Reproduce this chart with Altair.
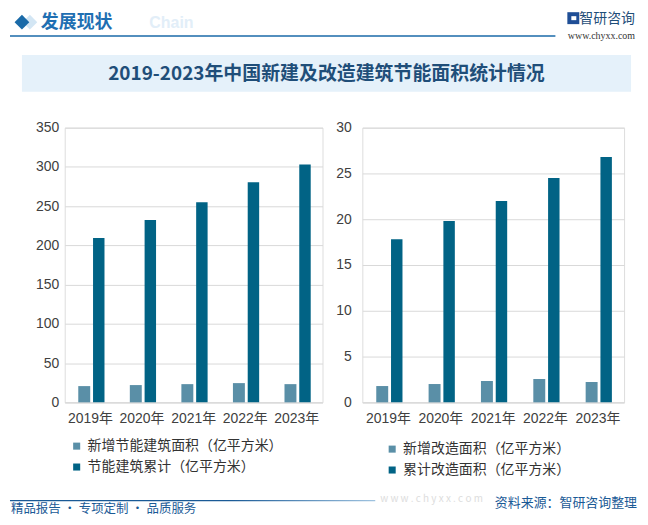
import altair as alt
import pandas as pd

years = ["2019年", "2020年", "2021年", "2022年", "2023年"]
new_energy = [20.7, 22.0, 23.2, 24.5, 23.2]
cum_energy = [209.4, 232.2, 255.0, 280.3, 303.1]
new_retro = [1.78, 2.0, 2.33, 2.55, 2.22]
cum_retro = [17.8, 19.8, 22.0, 24.5, 26.8]

left_series = ["新增节能建筑面积（亿平方米）", "节能建筑累计（亿平方米）"]
right_series = ["新增改造面积（亿平方米）", "累计改造面积（亿平方米）"]

LIGHT = "#5a8fa7"
DARK = "#016385"
FONT = "'Liberation Sans', 'Noto Sans CJK SC', sans-serif"
CJK = "'Noto Sans CJK SC', sans-serif"

def long_df(series, a, b):
    rows = []
    for i, y in enumerate(years):
        rows.append({"year": y, "series": series[0], "value": a[i]})
        rows.append({"year": y, "series": series[1], "value": b[i]})
    return pd.DataFrame(rows)

left_df = long_df(left_series, new_energy, cum_energy)
right_df = long_df(right_series, new_retro, cum_retro)


def bars(df, series, ymax, ystep, w, h, lx, ly, ypad):
    base = alt.Chart(df).encode(
        x=alt.X("year:N", sort=years, title=None,
                scale=alt.Scale(paddingInner=0, paddingOuter=0),
                axis=alt.Axis(labelAngle=0, labelFontSize=14, labelColor="#404040",
                              labelFont=FONT, ticks=False, domainColor="#d9d9d9",
                              labelPadding=9, grid=False)),
        y=alt.Y("value:Q", title=None,
                scale=alt.Scale(domain=[0, ymax], nice=False),
                axis=alt.Axis(values=list(range(0, ymax + 1, ystep)), labelFontSize=14,
                              labelColor="#404040", labelFont=FONT, ticks=False,
                              domain=False, gridColor="#d9d9d9", labelPadding=ypad)),
        color=alt.Color("series:N", sort=series,
                        scale=alt.Scale(domain=series, range=[LIGHT, DARK]),
                        legend=alt.Legend(orient="none", legendX=lx, legendY=ly,
                                          direction="vertical", title=None,
                                          symbolType="square", symbolSize=50,
                                          symbolStrokeWidth=0, labelFontSize=14,
                                          labelFont=CJK, labelColor="#333333",
                                          labelLimit=400,
                                          rowPadding=7, padding=0, labelOffset=4)),
    )
    lb = base.transform_filter(alt.datum.series == series[0]).mark_bar(width=12, xOffset=-6.3)
    db = base.transform_filter(alt.datum.series == series[1]).mark_bar(width=11.5, xOffset=8.3)
    return alt.layer(lb, db).properties(width=w, height=h)


def one():
    return alt.Data(values=[{"a": 1}])


def txt(x, y, s, size, color, align="left", weight="normal", font=CJK, baseline="middle"):
    return alt.Chart(one()).mark_text(
        align=align, baseline=baseline, fontSize=size, color=color,
        fontWeight=weight, font=font
    ).encode(x=alt.value(x), y=alt.value(y), text=alt.value(s))


def rect(x, x2, y, y2, color, opacity=1.0):
    return alt.Chart(one()).mark_rect(color=color, opacity=opacity).encode(
        x=alt.value(x), x2=alt.value(x2), y=alt.value(y), y2=alt.value(y2))


# decorations, relative to left plot origin (page 63,126)
OX, OY = 63, 126
def rx(p):
    return p - OX
def ry(p):
    return p - OY

anchor = rect(rx(8), rx(640), ry(8), ry(517), "white", 0.0)
banner = rect(rx(20), rx(632), ry(53), ry(90), "#e5f1fa")
title = txt(rx(326), ry(72), "2019-2023年中国新建及改造建筑节能面积统计情况", 19,
            "#1f4e79", align="center", weight="bold")
diamond_bg = alt.Chart(one()).mark_point(shape="diamond", filled=True, size=220,
                                         color="#d3e6f4", opacity=1).encode(
    x=alt.value(rx(28)), y=alt.value(ry(20)))
diamond = alt.Chart(one()).mark_point(shape="diamond", filled=True, size=220,
                                      color="#1a6aa8", opacity=1).encode(
    x=alt.value(rx(20)), y=alt.value(ry(20)))
head = txt(rx(39), ry(21), "发展现状", 18, "#1f6fb2", weight="bold")
chain = txt(rx(148), ry(21), "Chain", 16, "#e2eef8", weight="bold", font="'Liberation Sans'")
head_line = alt.Chart(one()).mark_rule(color="#1a6aa8", strokeWidth=1.5).encode(
    x=alt.value(rx(8)), x2=alt.value(rx(556)), y=alt.value(ry(34)))
logo_icon = rect(rx(568), rx(580), ry(10), ry(22), "#1f4e96")
logo_icon2 = rect(rx(572), rx(577), ry(14), ry(18), "white")
logo = txt(rx(636), ry(17), "智研咨询", 14, "#1f4e79", align="right")
url = txt(rx(636), ry(34), "www.chyxx.com", 10, "#333333", align="right",
          font="'Liberation Serif', serif")

foot_line = alt.Chart(one()).mark_rect(
    color=alt.LinearGradient(gradient="linear",
                             stops=[alt.GradientStop(color="#1a5a96", offset=0),
                                    alt.GradientStop(color="#1a5a96", offset=0.6),
                                    alt.GradientStop(color="#9fc3e0", offset=1)],
                             x1=0, x2=1, y1=0, y2=0)
).encode(x=alt.value(rx(8)), x2=alt.value(rx(375)), y=alt.value(ry(500)),
         y2=alt.value(ry(501.5)))
foot_wm = txt(rx(380), ry(499), "w w w . c h y x x . c o m", 10, "#dddddd")
source = txt(rx(638), ry(503), "资料来源：智研咨询整理", 13, "#1a5a96", align="right")
slogan = txt(rx(9), ry(509), "精品报告 · 专项定制 · 品质服务", 12.5, "#1a5a96")

left_bars = bars(left_df, left_series, 350, 50, 259, 276, 5, 313, 6)
right_bars = bars(right_df, right_series, 30, 5, 263, 276, 23, 316, 11)

left = alt.layer(anchor, banner, title, diamond_bg, diamond, head, chain, head_line,
                 logo_icon, logo_icon2, logo, url, foot_line, foot_wm, source, slogan,
                 left_bars)

chart = alt.hconcat(left, right_bars, spacing=40, bounds="flush").resolve_scale(
    color="independent"
).properties(padding=0).configure_view(stroke=None).configure(background="white")

chart.save("out.html", embed_options={"renderer": "svg", "actions": False})
